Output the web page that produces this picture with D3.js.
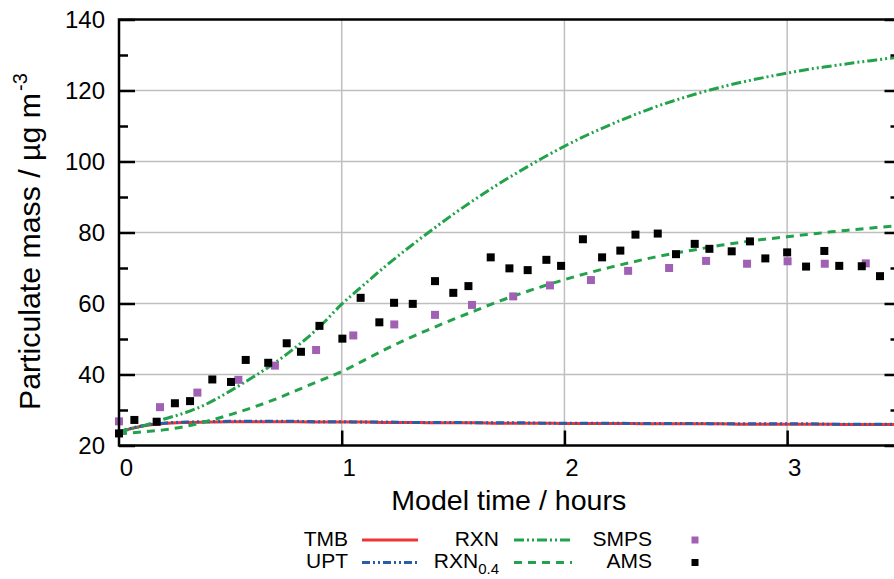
<!DOCTYPE html>
<html>
<head>
<meta charset="utf-8">
<script src="https://cdn.jsdelivr.net/npm/d3@7"></script>
<style>
  html, body { margin: 0; padding: 0; background: #fff; }
  svg { display: block; font-family: "Liberation Sans", Arial, Helvetica, sans-serif; }
</style>
</head>
<body>
<svg id="chart" width="894" height="579"></svg>
<script>
// ---------- data ----------
const modelTime = [0,0.1,0.2,0.3,0.4,0.5,0.6,0.7,0.8,0.9,1.0,1.1,1.2,1.3,1.4,1.5,1.6,1.7,1.8,1.9,2.0,2.1,2.2,2.3,2.4,2.5,2.6,2.7,2.8,2.9,3.0,3.1,3.2,3.3,3.4,3.5];
const tmbValues = [23.8,25.4,26.2,26.5,26.6,26.7,26.7,26.7,26.7,26.6,26.6,26.6,26.5,26.5,26.4,26.4,26.4,26.3,26.3,26.3,26.2,26.2,26.2,26.2,26.1,26.1,26.1,26.1,26.0,26.0,26.0,26.0,26.0,25.9,25.9,25.9];
const uptValues = [23.9,25.5,26.3,26.6,26.7,26.8,26.8,26.8,26.8,26.7,26.7,26.6,26.6,26.5,26.5,26.5,26.4,26.4,26.4,26.3,26.3,26.3,26.3,26.2,26.2,26.2,26.2,26.1,26.1,26.1,26.1,26.1,26.0,26.0,26.0,26.0];
const rxnValues = [23.9,25.4,27.4,29.3,31.9,35.4,39.2,43.3,48.0,53.4,59.8,65.3,70.7,75.7,80.5,85.1,89.4,93.5,97.3,100.9,104.3,107.4,110.2,112.8,115.2,117.3,119.2,120.9,122.4,123.7,124.9,126.0,126.9,127.8,128.6,129.4];
const rxn04Values = [23.3,23.8,24.4,25.4,26.9,28.7,30.7,33.0,35.6,38.2,40.8,44.0,47.2,50.2,52.9,55.5,58.0,60.5,62.7,64.8,66.7,68.5,70.1,71.6,73.0,74.2,75.3,76.4,77.3,78.1,78.8,79.5,80.2,80.8,81.4,81.9];

const smpsTime = [0,0.184,0.352,0.536,0.70,0.885,1.052,1.236,1.419,1.585,1.77,1.935,2.119,2.286,2.47,2.636,2.82,3.002,3.169,3.353];
const smpsValues = [26.8,30.8,34.9,38.5,42.5,46.9,51.0,54.1,56.8,59.6,62.0,65.1,66.6,69.2,70.0,72.0,71.2,71.9,71.2,71.3];

const amsTime = [0,0.069,0.169,0.251,0.319,0.419,0.503,0.569,0.67,0.753,0.817,0.90,1.003,1.085,1.169,1.235,1.319,1.419,1.501,1.569,1.669,1.753,1.835,1.919,1.985,2.083,2.169,2.251,2.319,2.419,2.501,2.585,2.651,2.751,2.833,2.902,3.0,3.085,3.167,3.234,3.335,3.417];
const amsValues = [23.4,27.2,26.7,31.9,32.5,38.6,37.9,44.1,43.3,48.8,46.4,53.7,50.1,61.6,54.7,60.2,59.9,66.3,63.0,64.9,73.0,69.9,69.4,72.3,70.6,78.1,73.0,74.9,79.4,79.7,73.9,76.8,75.4,74.7,77.5,72.7,74.4,70.4,74.8,70.6,70.5,67.7];

const xTicks = [0, 1, 2, 3];
const xTickLabels = ["0", "1", "2", "3"];
const yTicks = [20, 40, 60, 80, 100, 120, 140];
const yMinorTicks = [30, 50, 70, 90, 110, 130];
const xGrid = [1, 2, 3];
const yGrid = [40, 60, 80, 100, 120];

const xTitle = "Model time / hours";
const yTitle = "Particulate mass / µg m";
const yTitleSup = "-3";

const legendItems = [
  { key: "TMB", label: "TMB", sub: "" },
  { key: "UPT", label: "UPT", sub: "" },
  { key: "RXN", label: "RXN", sub: "" },
  { key: "RXN04", label: "RXN", sub: "0.4" },
  { key: "SMPS", label: "SMPS", sub: "" },
  { key: "AMS", label: "AMS", sub: "" }
];

// ---------- styles ----------
const colors = { TMB: "#ee3535", UPT: "#2b5ca8", RXN: "#21a24b", RXN04: "#21a24b", SMPS: "#a060b4", AMS: "#000000" };
const dashes = { TMB: null, UPT: "8,3,2,3,2,3", RXN: "10,3,2,3,2,3", RXN04: "8,6" };

// ---------- layout ----------
const L = 119, R = 898.5, T = 19.5, B = 445.5;
const svg = d3.select("#chart");
svg.append("rect").attr("width", 894).attr("height", 579).attr("fill", "#fff");

const x = d3.scaleLinear().domain([0, 3.5]).range([L, R]);
const y = d3.scaleLinear().domain([20, 140]).range([B, T]);

// grid
const grid = svg.append("g");
grid.selectAll(".gx").data(xGrid).join("line")
  .attr("x1", d => x(d)).attr("x2", d => x(d)).attr("y1", T).attr("y2", B)
  .attr("stroke", "#bfbfbf").attr("stroke-width", 1.5);
grid.selectAll(".gy").data(yGrid).join("line")
  .attr("x1", L).attr("x2", R).attr("y1", d => y(d)).attr("y2", d => y(d))
  .attr("stroke", "#bfbfbf").attr("stroke-width", 1.5);

// series lines
const line = (vals) => d3.line().curve(d3.curveMonotoneX)
  .x((d, i) => x(modelTime[i])).y(d => y(d))(vals);

const seriesLines = [
  { key: "TMB", vals: tmbValues },
  { key: "UPT", vals: uptValues },
  { key: "RXN", vals: rxnValues },
  { key: "RXN04", vals: rxn04Values }
];
svg.append("defs").append("clipPath").attr("id", "clip")
  .append("rect").attr("x", L).attr("y", T).attr("width", R - L).attr("height", B - T);

const lines = svg.append("g").attr("clip-path", "url(#clip)");
seriesLines.forEach(s => {
  lines.append("path").attr("d", line(s.vals))
    .attr("fill", "none").attr("stroke", colors[s.key]).attr("stroke-width", 3)
    .attr("stroke-dasharray", dashes[s.key]);
});

// scatter
const sq = 8;
const pts = svg.append("g");
pts.selectAll(".smps").data(smpsValues).join("rect")
  .attr("x", (d, i) => x(smpsTime[i]) - sq / 2).attr("y", d => y(d) - sq / 2)
  .attr("width", sq).attr("height", sq).attr("fill", colors.SMPS);
pts.selectAll(".ams").data(amsValues).join("rect")
  .attr("x", (d, i) => x(amsTime[i]) - sq / 2).attr("y", d => y(d) - sq / 2)
  .attr("width", sq).attr("height", sq).attr("fill", colors.AMS);

// axes
const fontTick = 24;
const yAxis = d3.axisLeft(y).tickValues(yTicks).tickSize(-16).tickSizeOuter(0).tickPadding(14);
const gy = svg.append("g").attr("transform", `translate(${L},0)`).call(yAxis);
const yAxisR = d3.axisRight(y).tickValues(yTicks).tickSize(-14).tickSizeOuter(0).tickFormat("");
const gyr = svg.append("g").attr("transform", `translate(${R},0)`).call(yAxisR);
const yMinor = d3.axisLeft(y).tickValues(yMinorTicks).tickSize(-9).tickSizeOuter(0).tickFormat("");
const gym = svg.append("g").attr("transform", `translate(${L},0)`).call(yMinor);
const yMinorR = d3.axisRight(y).tickValues(yMinorTicks).tickSize(-8).tickSizeOuter(0).tickFormat("");
const gymr = svg.append("g").attr("transform", `translate(${R},0)`).call(yMinorR);

const xAxis = d3.axisBottom(x).tickValues(xTicks).tickFormat((d, i) => xTickLabels[i])
  .tickSize(-15).tickSizeOuter(0).tickPadding(13);
const gx = svg.append("g").attr("transform", `translate(0,${B})`).call(xAxis);

[gy, gyr, gym, gymr, gx].forEach(g => {
  g.select(".domain").remove();
  g.selectAll(".tick line").attr("stroke", "#000").attr("stroke-width", 2.5);
  g.selectAll("text").attr("font-size", fontTick).attr("fill", "#000")
    .attr("font-family", "'Liberation Sans', Arial, Helvetica, sans-serif");
});
gx.selectAll(".tick text").attr("dx", 7);
gx.selectAll(".tick").filter(d => d === 0).select("line").remove();

// frame
const frame = svg.append("g").attr("stroke", "#000").attr("stroke-width", 2.5).attr("fill", "none");
frame.append("path").attr("d", `M${L},${T}H${R}V${B}H${L}Z`);

// axis titles
svg.append("text").attr("x", (L + R) / 2).attr("y", 509.5).attr("text-anchor", "middle")
  .attr("font-size", 28).attr("textLength", 235).attr("lengthAdjust", "spacingAndGlyphs")
  .text(xTitle);

const yt = svg.append("text").attr("transform", "translate(39.5,410) rotate(-90)")
  .attr("font-size", 29);
yt.append("tspan").attr("textLength", 317).attr("lengthAdjust", "spacingAndGlyphs").text(yTitle);
yt.append("tspan").attr("font-size", 20).attr("dy", -13).attr("dx", 2).text(yTitleSup);

// legend
const legendCols = [
  { textEnd: 348, lineX1: 362, lineX2: 418 },
  { textEnd: 499, lineX1: 514, lineX2: 572 },
  { textEnd: 652, lineX1: 695, lineX2: 695 }
];
const legendRows = [540, 562.5];
const leg = svg.append("g").attr("font-size", 21);
legendItems.forEach((it, i) => {
  const c = legendCols[Math.floor(i / 2)], r = legendRows[i % 2];
  const t = leg.append("text").attr("x", c.textEnd).attr("y", r + 5.5).attr("text-anchor", "end");
  t.append("tspan").text(it.label);
  if (it.sub) t.append("tspan").attr("font-size", 15).attr("dy", 6).text(it.sub);
  if (it.key === "SMPS" || it.key === "AMS") {
    leg.append("rect").attr("x", c.lineX1 - 3.5).attr("y", r - 3.5).attr("width", 7).attr("height", 7)
      .attr("fill", colors[it.key]);
  } else {
    leg.append("line").attr("x1", c.lineX1).attr("x2", c.lineX2).attr("y1", r).attr("y2", r)
      .attr("stroke", colors[it.key]).attr("stroke-width", 3).attr("stroke-dasharray", dashes[it.key]);
  }
});
</script>
</body>
</html>
